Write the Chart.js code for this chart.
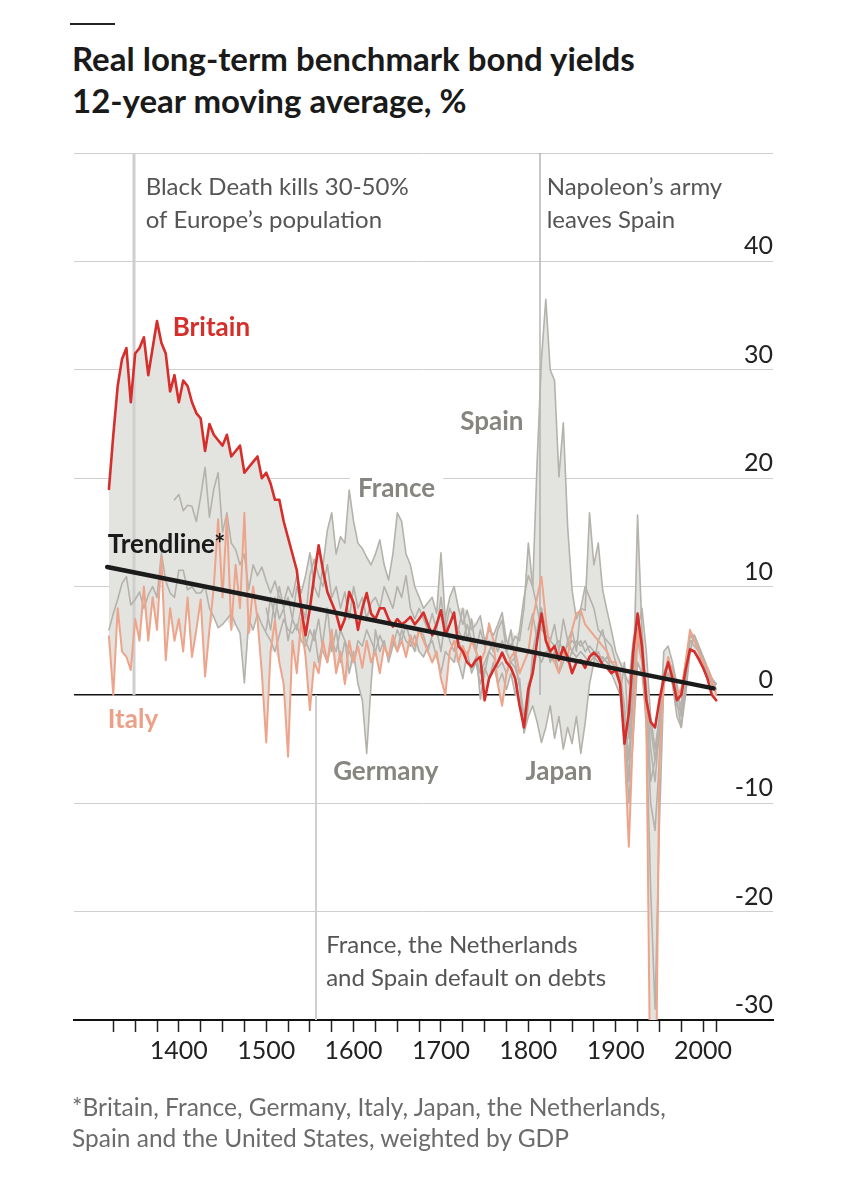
<!DOCTYPE html>
<html><head><meta charset="utf-8">
<script src="https://cdn.jsdelivr.net/npm/chart.js@4/dist/chart.umd.min.js"></script>
<style>
html,body{margin:0;padding:0;background:#fff;}
body{width:860px;height:1200px;position:relative;overflow:hidden;font-family:Lato,"Open Sans",sans-serif;}
#rule{position:absolute;left:70px;top:23px;width:45px;height:2px;background:#222;}
.title{position:absolute;left:72px;font-weight:700;font-size:33px;line-height:40px;color:#1a1a1a;white-space:nowrap;}
.foot{position:absolute;left:72px;font-size:24.5px;line-height:29px;color:#6b6b6b;white-space:nowrap;}
canvas{position:absolute;left:0;top:0;}
</style></head><body>
<div id="rule"></div>
<div class="title" style="top:38px">Real long-term benchmark bond yields</div>
<div class="title" style="top:80px">12-year moving average, %</div>
<canvas id="c" width="860" height="1200"></canvas>
<div class="foot" style="top:1092px">*Britain, France, Germany, Italy, Japan, the Netherlands,</div>
<div class="foot" style="top:1123px">Spain and the United States, weighted by GDP</div>
<script>
// ---- DATA ----
const years = [1320,1325,1330,1335,1340,1345,1350,1355,1360,1365,
1370,1375,1380,1385,1390,1395,1400,1405,1410,1415,
1420,1425,1430,1435,1440,1445,1450,1455,1460,1465,
1470,1475,1480,1485,1490,1495,1500,1505,1510,1515,
1520,1525,1530,1535,1540,1545,1550,1555,1560,1565,
1570,1575,1580,1585,1590,1595,1600,1605,1610,1615,
1620,1625,1630,1635,1640,1645,1650,1655,1660,1665,
1670,1675,1680,1685,1690,1695,1700,1705,1710,1715,
1720,1725,1730,1735,1740,1745,1750,1755,1760,1765,
1770,1775,1780,1785,1790,1795,1800,1805,1810,1815,
1820,1825,1830,1835,1840,1845,1850,1855,1860,1865,
1870,1875,1880,1885,1890,1895,1900,1905,1910,1915,
1920,1925,1930,1935,1940,1945,1950,1955,1960,1965,
1970,1975,1980,1985,1990,1995,2000,2005,2010,2015];

const britainFrom = 1320;
const britain = [19,24,28.5,31,32,27,31.5,32,33,29.5,
32,34.5,32.5,31.5,28,29.5,27,29,28.5,27,
26,25.5,22.5,25,24,23.5,23,24,22,22.5,
23,20.5,21,21.5,22,20,20.5,19.5,18,18,
16,14.5,13,11.5,8,5.5,8,11,13.8,11.5,
9.5,8.5,7.5,6,7,9.5,8.5,6,8,9.4,
7.5,7,8,8,7,6.3,7,6.5,6.8,7.2,
6.5,7,7.6,6.5,5.5,6.5,7.8,5.5,6.5,7.6,
4.5,4,3,2.6,3.2,3.5,-0.5,1.5,2.3,3,
3.9,3,2.5,1.5,-1,-3,0.5,2,5,7.5,
5,4,4.5,3.2,4.4,3.5,2,3,3.2,2.5,
3.5,3.9,3.5,2.8,2.5,2,2.3,1,-4.5,-1.7,
4,7.5,4.5,-0.5,-2.5,-3,-0.5,1.5,3,1.5,
-0.5,0,2.3,4.2,4,3.3,2.5,1.5,0,-0.5];

const italyFrom = 1320;
const italy = [5.4,0,8,4,3.5,2.3,7,5,10,5,
9,6,12.7,3.2,8,5,7,4,9,3.5,
6,8.8,1.7,6,10,16.2,9,16.5,6,12,
8,16.8,5.7,10,7,2,-4.4,4,6.9,3,
1,-5.7,5,2,7,3.5,-1.4,3,2,5,
3,6,2,4,1,5,3,4.5,2.5,5,
3,4,2,4.5,3.5,5.5,4,5,3.5,5.5,
4.5,6,5,4,3,4,1.5,0,4,5,
3,4.5,3.5,5,4,3,4,6.6,5,1,
-1,2,3.5,4,2,3,4,7,9,10.9,
7,4,3,2,4,3.5,6,7.5,7.8,6.5,
6,5.5,5,4.5,4,3,3,1.5,-4.5,-14,
-3,6,3.5,-2,-40,-45,-6,1,3.5,2,
0,0.5,3,6,5,4,3,2.5,1.5,0];

const franceFrom = 1395;
const france = [18,18.5,17,17.5,17.4,16,18.3,21,16.4,19,
20.5,15,16.8,14,13.4,12,13,9.7,12,11,
11.8,10.5,9.4,10.5,9,8.5,10,9,11,9.4,
11,13.1,10,9,12,15.2,16.8,13,14.6,14,
18.9,16,14,13.5,12.7,12,13,14.3,12,10.6,
13,16.8,16,13,12,10,9,8,8.5,9,
7.5,13.1,7,9,10,8,6.5,7.8,6,6.5,
7.3,5,6,5.5,6.5,7.6,5,4.5,5.4,5,
8,14,10,8,6,5.5,5,4.5,5,4,
4.5,5,4.5,5,4,4.5,4,3.5,3.5,3,
2.5,2.5,1.5,-3,-10,-4,3,2,-2,-10,
-12.5,-6,2,3,2.5,0.5,0,3,5.5,5.5,
4.5,3.5,2,1.5,0.5];

const netherlandsFrom = 1320;
const netherlands = [6,7.5,8.8,10.3,10.9,8.3,8.8,9.5,8,9.2,
10,9,13.1,10.5,9.4,9,11.5,11.5,9.7,10,
9.4,9.4,10,8,7.2,6.2,6.5,7,7.5,6.5,
5.7,1.1,7,6,7.5,6.5,5.7,5,4,5.5,
7,6,5.7,6.5,5,4.5,6,5,7,4,
3,5,4,6,5,4,3,5,4.5,6,
5,4,5.5,4.5,3.5,5,4,6,5,4.5,
5.5,4,3.5,4.5,5,3.5,2,4,3.5,3,
5,4,3,2.5,3.5,2,3,4,3.5,2.5,
3,2,3,2.5,1,-2,1,2,4,3,
4,3.5,3,4,3.5,3,4,3.5,4,3.5,
3,3.5,3,3.5,3,2.5,2,1,-2,-6,
0,5,4,1,-5,-8,-3,1,2,1,
-1,-1.5,2,5,4.5,4,3,2,1,0.5];

const germanyFrom = 1500;
const germany = [8,6,9,7,8,5,7,6,8,5,
4,6,3,5,8,4,6,3,5,2,
4,1,-0.5,-5.4,1,6,4,5,3,4.5,
6,5,6.5,5,4,6,5.5,4,5.5,6,
4,7,5,4,6,5,6.5,5,4.5,-0.4,
2,4,5,4,5,4,6,3,1,-3.5,
-1,4,6,8,5,3,4,2,3,5,
4,5,4.5,5,4,3.5,4,3,3.5,3,
2.5,2,-1,-8,0,16.6,6,0,-8,-6,
-4,4,4.5,3,1,-2,1,5,5,4,
3.5,2.5,1.5,0.5];

const spainFrom = 1500;
const spain = [6,9,7,10,8,9,7,10,8.5,7,
11,12.5,11,10,12,9,10,8,9.5,7,
10,8,9,7,8.5,9,8,10,9,8,
10,9,11,8,7,8,7,6,7.5,6,
9,6,8,7,6,8,5,7,4,6,
4.5,5,4,6,6.9,4,3,3.5,6,9,
11,10,21.4,31,36.5,30,29,20.1,25.1,15.5,
9.7,7,8,7.8,16.8,12,14,9.7,7.8,6,
4,3,2,1,5,7,4,0,-3,-6,
-2,2,3,2,-0.5,-3,0,4,5.5,4.5,
3.5,2.5,1.5,1];

const japanFrom = 1720;
const japan = [3,1.5,4,2,3,1,2.5,1.5,3,1,
2,0.5,2,0,1.5,-3.5,-2,-1,-2.5,-4.4,
-3,-1,-4,-2,-5,-3,-4.5,-2,-5.4,-2.6,
1,3,5,6,4,2,1,0,3,-4,
2,5,3,-3,-18,-29,-12,1,2,1,
-2,-3,1,4,4,3.5,3,2,1.5,1];

const usaFrom = 1800;
const usa = [6,7.5,5,8,6,5,6.5,4,7,5,
6,4,8,10,9,8,6,5.5,5,4.5,
3,1,-1.5,-6,1,6,8,4,-2,-5,
-2,2,3,2.5,0,-1,3,5.5,5,4,
3,2,1,0.5];

const trendYears = [1318, 2012];
const trendValues = [11.8, 0.6];

const xTickYears = [1325,1350,1375,1400,1425,1450,1475,1500,1525,1550,1575,1600,1625,1650,1675,1700,1725,1750,1775,1800,1825,1850,1875,1900,1925,1950,1975,2000,2015];

const eventLines = [
  {year:1349, from:0, to:50, color:'#cfcfcf', width:3},
  {year:1813, from:0, to:50, color:'#a9a9a9', width:1.3},
  {year:1557, from:-30, to:0, color:'#cfcfcf', width:2}
];
const eventTexts = [
  {year:1362, value:46.8, lines:['Black Death kills 30-50%','of Europe\u2019s population']},
  {year:1821, value:46.8, lines:['Napoleon\u2019s army','leaves Spain']},
  {year:1568.6, value:-23.1, lines:['France, the Netherlands','and Spain default on debts']}
];
const seriesLabels = [
  {text:'Britain', year:1393, value:33.9, color:'#d52f2b'},
  {text:'Spain', year:1722, value:25.2, color:'#86857f'},
  {text:'France', year:1605, value:19.0, color:'#86857f', knockout:true},
  {text:'Trendline*', year:1318.6, value:13.85, color:'#1a1a1a'},
  {text:'Italy', year:1318.6, value:-2.3, color:'#eca088'},
  {text:'Germany', year:1576.6, value:-7.1, color:'#86857f'},
  {text:'Japan', year:1796.8, value:-7.1, color:'#86857f'}
];

// ---- BUILD ----
function align(from, vals){
  return years.map(yr => { const i = (yr - from) / 5; return (i >= 0 && i < vals.length) ? vals[i] : null; });
}
const A = {
  britain: align(britainFrom, britain), italy: align(italyFrom, italy),
  france: align(franceFrom, france), netherlands: align(netherlandsFrom, netherlands),
  germany: align(germanyFrom, germany), spain: align(spainFrom, spain),
  japan: align(japanFrom, japan), usa: align(usaFrom, usa)
};
const all = Object.values(A);
const upper = years.map((yr,i) => { const v = all.map(a=>a[i]).filter(v=>v!==null); return {x:yr, y:Math.max(...v)}; });
const lower = years.map((yr,i) => { const v = all.map(a=>a[i]).filter(v=>v!==null); return {x:yr, y:Math.min(...v)}; });
const pts = arr => years.map((yr,i)=>({x:yr, y:arr[i]})).filter(p=>p.y!==null);

const GRAY = '#b4b2ab';
function grayDs(arr){ return {data:pts(arr), borderColor:GRAY, borderWidth:1.6, fill:false, order:5}; }

const FONT = 'Lato, "Open Sans", sans-serif';
const LABEL_FONT = '700 26px ' + FONT;

const annoPlugin = {
  id:'anno',
  beforeDatasetsDraw(chart){
    const {ctx, scales:{x, y}} = chart;
    ctx.save();
    ctx.font = LABEL_FONT;
    seriesLabels.filter(l=>l.knockout).forEach(l=>{
      const px = x.getPixelForValue(l.year), py = y.getPixelForValue(l.value);
      const w = ctx.measureText(l.text).width;
      ctx.fillStyle = '#fff';
      ctx.fillRect(px - 8, py - 15, w + 16, 30);
    });
    ctx.restore();
  },
  afterDatasetDraw(chart, args){
    if (args.index !== 0) return;
    const {ctx, scales:{x, y}} = chart;
    ctx.save();
    eventLines.forEach(e=>{
      const px = Math.round(x.getPixelForValue(e.year));
      ctx.strokeStyle = e.color; ctx.lineWidth = e.width;
      ctx.beginPath();
      ctx.moveTo(px, y.getPixelForValue(e.to));
      ctx.lineTo(px, y.getPixelForValue(e.from));
      ctx.stroke();
    });
    ctx.restore();
  },
  afterDatasetsDraw(chart){
    const {ctx, scales:{x, y}} = chart;
    ctx.save();
    ctx.textBaseline = 'middle'; ctx.textAlign = 'left';
    ctx.font = '400 24px ' + FONT; ctx.fillStyle = '#555';
    eventTexts.forEach(t=>{
      const px = x.getPixelForValue(t.year), py = y.getPixelForValue(t.value);
      t.lines.forEach((ln, k)=> ctx.fillText(ln, px, py + k*33));
    });
    ctx.font = LABEL_FONT;
    seriesLabels.forEach(l=>{
      ctx.fillStyle = l.color;
      ctx.fillText(l.text, x.getPixelForValue(l.year), y.getPixelForValue(l.value));
    });
    ctx.restore();
  }
};

function draw(){
  new Chart(document.getElementById('c'), {
    type:'line',
    data:{datasets:[
      {data:upper, borderWidth:0, borderColor:'rgba(0,0,0,0)', backgroundColor:'#e3e3e0', fill:'+1', order:10},
      {data:lower, borderWidth:0, borderColor:'rgba(0,0,0,0)', fill:false, order:10},
      grayDs(A.france), grayDs(A.netherlands), grayDs(A.germany), grayDs(A.spain), grayDs(A.japan), grayDs(A.usa),
      {data:pts(A.italy), borderColor:'#eda48b', borderWidth:2, fill:false, order:3},
      {data:pts(A.britain), borderColor:'#d62e2a', borderWidth:2.6, fill:false, order:2},
      {data:trendYears.map((yr,i)=>({x:yr, y:trendValues[i]})), borderColor:'#1b1b1b', borderWidth:4.5, fill:false, order:1}
    ]},
    options:{
      responsive:false, animation:false, devicePixelRatio:1,
      layout:{padding:{left:74, right:87, top:153, bottom:120}},
      plugins:{legend:{display:false}, tooltip:{enabled:false}},
      elements:{point:{radius:0}, line:{tension:0, borderJoinStyle:'round', borderCapStyle:'round'}},
      scales:{
        x:{type:'linear', min:1280, max:2080,
          afterBuildTicks:s=>{ s.ticks = xTickYears.map(v=>({value:v})); },
          afterFit:s=>{ s.height = 60; },
          grid:{drawOnChartArea:false, drawTicks:true, tickLength:12, tickColor:'#222', tickWidth:1.5},
          border:{display:true, color:'#111', width:2},
          ticks:{autoSkip:false, maxRotation:0, padding:4, color:'#222', font:{family:FONT, size:25},
                 callback:v=> (v % 100 === 0) ? String(v) : ''}},
        y:{type:'linear', min:-30, max:50, position:'right',
          afterFit:s=>{ s.width = 0; },
          grid:{drawTicks:false, color:c=> (c.tick && c.tick.value===0) ? '#111' : '#cfcfcf',
                lineWidth:c=> (c.tick && c.tick.value===0) ? 1.6 : 1},
          border:{display:false},
          ticks:{mirror:true, padding:0, labelOffset:-15, stepSize:10, color:'#222', font:{family:FONT, size:25},
                 callback:v=> v===50 ? '' : String(v)}}
      }
    },
    plugins:[annoPlugin]
  });
}
Promise.all([document.fonts.load('400 24px Lato'), document.fonts.load('700 26px Lato')]).then(draw, draw);
</script>
</body></html>
